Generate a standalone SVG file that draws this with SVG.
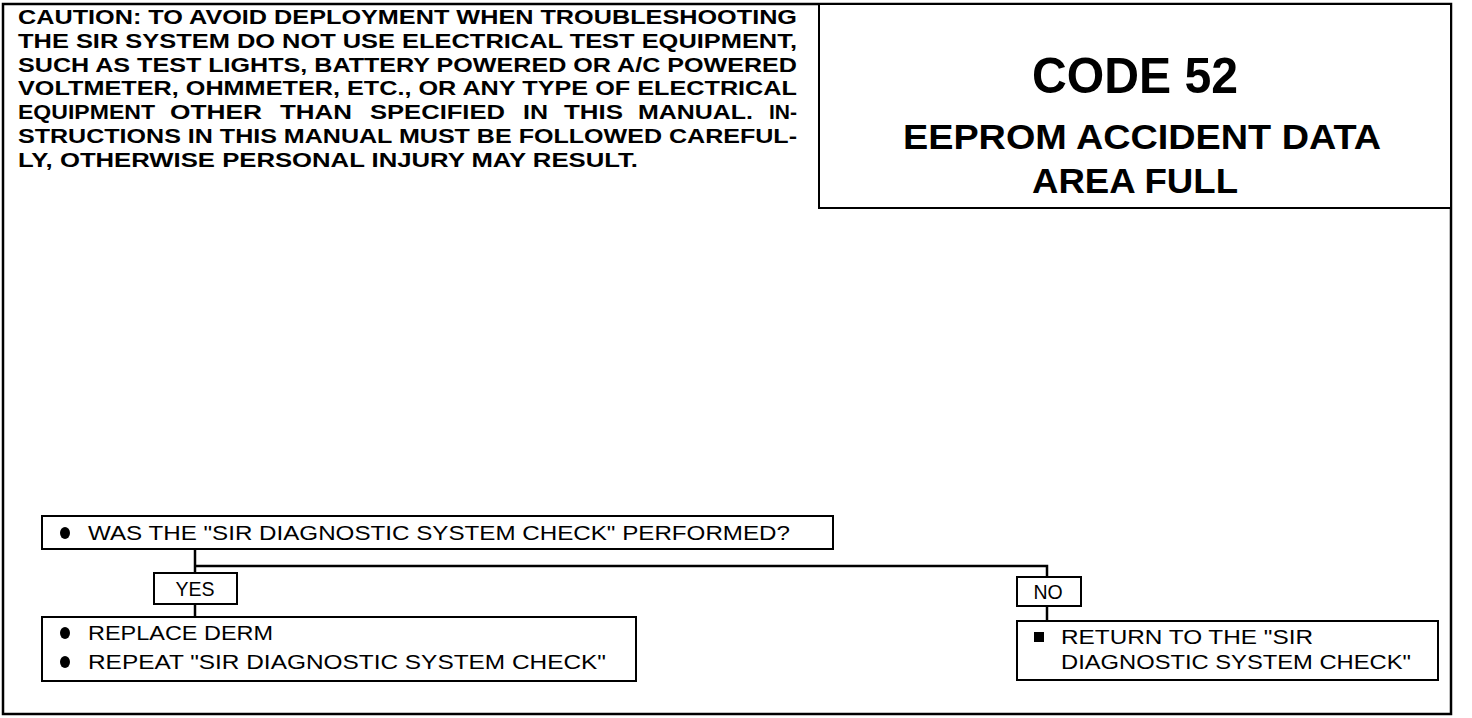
<svg xmlns="http://www.w3.org/2000/svg" width="1472" height="718" viewBox="0 0 1472 718">
<style>
.box{fill:#fff;stroke:#000;stroke-width:2}
.frame{fill:none;stroke:#000;stroke-width:2.5}
.ct{font-family:"Liberation Sans",Arial,sans-serif;font-weight:bold;font-size:19.5px;fill:#000}
.t{font-family:"Liberation Sans",Arial,sans-serif;font-size:19.5px;fill:#000}
.h{font-family:"Liberation Sans",Arial,sans-serif;font-weight:bold;fill:#000;text-anchor:middle}
.c{fill:none;stroke:#000;stroke-width:2.5}
</style>
<rect class="frame" x="3" y="4" width="1448" height="710"/>
<g id="caution">
<text class="ct" x="18" y="24" textLength="779" lengthAdjust="spacingAndGlyphs">CAUTION: TO AVOID DEPLOYMENT WHEN TROUBLESHOOTING</text>
<text class="ct" x="18" y="48" textLength="779" lengthAdjust="spacingAndGlyphs">THE SIR SYSTEM DO NOT USE ELECTRICAL TEST EQUIPMENT,</text>
<text class="ct" x="18" y="72" textLength="779" lengthAdjust="spacingAndGlyphs">SUCH AS TEST LIGHTS, BATTERY POWERED OR A/C POWERED</text>
<text class="ct" x="18" y="95" textLength="779" lengthAdjust="spacingAndGlyphs">VOLTMETER, OHMMETER, ETC., OR ANY TYPE OF ELECTRICAL</text>
<text class="ct" x="18" y="119" textLength="137" lengthAdjust="spacingAndGlyphs">EQUIPMENT</text>
<text class="ct" x="170" y="119" textLength="92" lengthAdjust="spacingAndGlyphs">OTHER</text>
<text class="ct" x="280" y="119" textLength="72" lengthAdjust="spacingAndGlyphs">THAN</text>
<text class="ct" x="370" y="119" textLength="135" lengthAdjust="spacingAndGlyphs">SPECIFIED</text>
<text class="ct" x="523" y="119" textLength="25" lengthAdjust="spacingAndGlyphs">IN</text>
<text class="ct" x="564" y="119" textLength="59" lengthAdjust="spacingAndGlyphs">THIS</text>
<text class="ct" x="638" y="119" textLength="115" lengthAdjust="spacingAndGlyphs">MANUAL.</text>
<text class="ct" x="769" y="119" textLength="28" lengthAdjust="spacingAndGlyphs">IN-</text>
<text class="ct" x="18" y="143" textLength="779" lengthAdjust="spacingAndGlyphs">STRUCTIONS IN THIS MANUAL MUST BE FOLLOWED CAREFUL-</text>
<text class="ct" x="18" y="167" textLength="620" lengthAdjust="spacingAndGlyphs">LY, OTHERWISE PERSONAL INJURY MAY RESULT.</text>
</g>
<g id="title">
<rect class="box" x="819" y="4" width="632" height="204"/>
<text class="h" x="1135" y="93" font-size="50" textLength="206" lengthAdjust="spacingAndGlyphs">CODE 52</text>
<text class="h" x="1142" y="149" font-size="35" textLength="478" lengthAdjust="spacingAndGlyphs">EEPROM ACCIDENT DATA</text>
<text class="h" x="1135" y="193" font-size="35" textLength="206" lengthAdjust="spacingAndGlyphs">AREA FULL</text>
</g>
<g id="connectors">
<line class="c" x1="195" y1="549" x2="195" y2="573"/>
<line class="c" x1="195" y1="604" x2="195" y2="617"/>
<polyline class="c" points="195,566 1047,566 1047,577" stroke-width="3.5"/>
<line class="c" x1="1047" y1="606" x2="1047" y2="621"/>
</g>
<g id="question">
<rect class="box" x="42" y="516" width="791" height="33"/>
<ellipse cx="65" cy="533" rx="5" ry="6"/>
<text class="t" x="88" y="540" textLength="702" lengthAdjust="spacingAndGlyphs">WAS THE "SIR DIAGNOSTIC SYSTEM CHECK" PERFORMED?</text>
</g>
<g id="yes">
<rect class="box" x="154" y="573" width="83" height="31"/>
<text class="t" x="195" y="596" text-anchor="middle" font-size="20">YES</text>
</g>
<g id="no">
<rect class="box" x="1017" y="577" width="64" height="29"/>
<text class="t" x="1048" y="599" text-anchor="middle" font-size="20">NO</text>
</g>
<g id="yes-action">
<rect class="box" x="42" y="617" width="594" height="64"/>
<ellipse cx="65" cy="633" rx="5" ry="6"/>
<text class="t" x="88" y="640" textLength="185" lengthAdjust="spacingAndGlyphs">REPLACE DERM</text>
<ellipse cx="65" cy="662" rx="5" ry="6"/>
<text class="t" x="88" y="669" textLength="518" lengthAdjust="spacingAndGlyphs">REPEAT "SIR DIAGNOSTIC SYSTEM CHECK"</text>
</g>
<g id="no-action">
<rect class="box" x="1017" y="621" width="421" height="59"/>
<rect x="1034" y="632" width="10" height="10"/>
<text class="t" x="1061" y="644" textLength="252" lengthAdjust="spacingAndGlyphs">RETURN TO THE "SIR</text>
<text class="t" x="1061" y="669" textLength="350" lengthAdjust="spacingAndGlyphs">DIAGNOSTIC SYSTEM CHECK"</text>
</g>
</svg>
